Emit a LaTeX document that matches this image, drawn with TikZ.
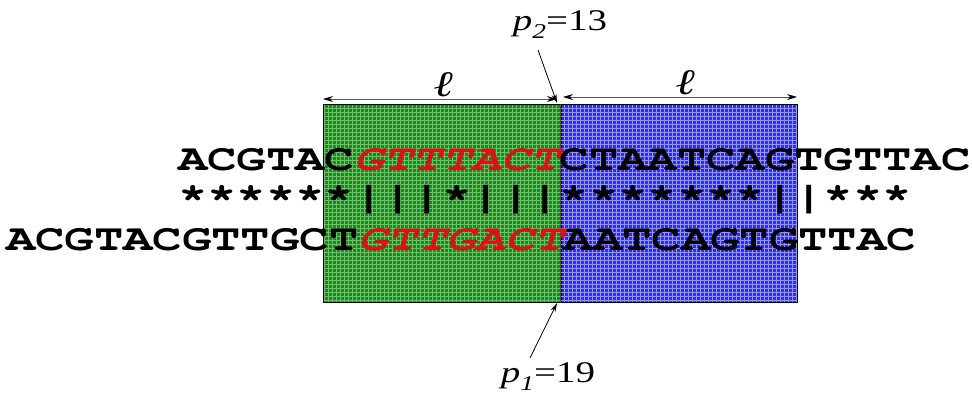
\documentclass[tikz,border=0pt]{standalone}
\usepackage{fontspec}
\usetikzlibrary{arrows.meta}
\newfontfamily\dnafont[FakeStretch=1.322]{TeX Gyre Cursor}
\newfontfamily\lblfont[FakeStretch=1.3]{Liberation Serif}
\definecolor{mred}{RGB}{215,20,20}
\definecolor{gbase}{RGB}{30,135,30}
\definecolor{ggrid}{RGB}{110,190,110}
\definecolor{bbase}{RGB}{45,45,235}
\definecolor{bgrid}{RGB}{150,150,255}
\newcommand{\mis}[1]{{\color{mred}\itshape #1}}
\newcommand{\plabel}[3]{{\lblfont\fontsize{30}{30}\selectfont\itshape #1\raisebox{-0.28em}{\fontsize{21}{21}\selectfont #2}\upshape =#3}}
\tikzset{
  seq/.style={font=\dnafont\bfseries\fontsize{37}{37}\selectfont, inner sep=0pt, anchor=base west},
  block/.style={draw=black, line width=0.6pt, minimum height=198pt, inner sep=0pt, anchor=north west},
  dim/.style={draw=black!65, line width=0.8pt, {Stealth[length=10pt,width=6pt,black]}-{Stealth[length=10pt,width=6pt,black]}},
  ptr/.style={draw=black, line width=0.8pt, -{Stealth[length=9pt,width=5pt]}},
  lbl/.style={inner sep=0pt},
  ellfont/.style={font=\lblfont\itshape\fontsize{36}{36}\selectfont}
}
\begin{document}
\begin{tikzpicture}[x=1pt,y=-1pt]
\useasboundingbox (0,0) rectangle (972,392);

% shaded windows of length l on each side of the breakpoint
\node[block, fill=gbase, minimum width=237pt] (win1) at (323,104) {};
\node[block, fill=bbase, minimum width=236pt] (win2) at (561,104) {};
\begin{scope}
  \clip (323,104) rectangle (560,302);
  \draw[ggrid, line width=0.9pt, step=4pt] (320,100) grid (564,306);
\end{scope}
\begin{scope}
  \clip (561,104) rectangle (797,302);
  \draw[bgrid, line width=0.9pt, step=4pt] (556,100) grid (800,306);
\end{scope}
\draw[black, line width=0.6pt] (win1.north west) rectangle (win2.south east);
\draw[black!70, line width=1pt] (win1.north east) -- (win1.south east);

% aligned sequences
\node[seq] (top) at (178,170) {ACGTAC\mis{GTTTACT}CTAATCAGTGTTAC};
\node[seq] (mid) at (178,208) {******|||*|||*******||***};
\node[seq] (bot) at (6,250) {ACGTACGTTGCT\mis{GTTGACT}AATCAGTGTTAC};

% window length markers
\coordinate (l1a) at (323,99);
\coordinate (l1b) at (557,99);
\coordinate (l2a) at (563,97);
\coordinate (l2b) at (797,97);
\draw[dim] (l1a) -- (l1b);
\draw[dim] (l2a) -- (l2b);
\node[lbl, ellfont, anchor=base] (ell1) at (443,96) {ℓ};
\node[lbl, ellfont, anchor=base] (ell2) at (685,94) {ℓ};

% breakpoint positions
\node[lbl, anchor=base] (p2) at (560,30) {\plabel{p}{2}{13}};
\node[lbl, anchor=base] (p1) at (548,382) {\plabel{p}{1}{19}};
\coordinate (p2tip) at (557,103);
\coordinate (p1tip) at (557,303);
\coordinate (p2tail) at (538,50);
\coordinate (p1tail) at (530,358);
\draw[ptr] (p2tail) -- (p2tip);
\draw[ptr] (p1tail) -- (p1tip);
\end{tikzpicture}
\end{document}
